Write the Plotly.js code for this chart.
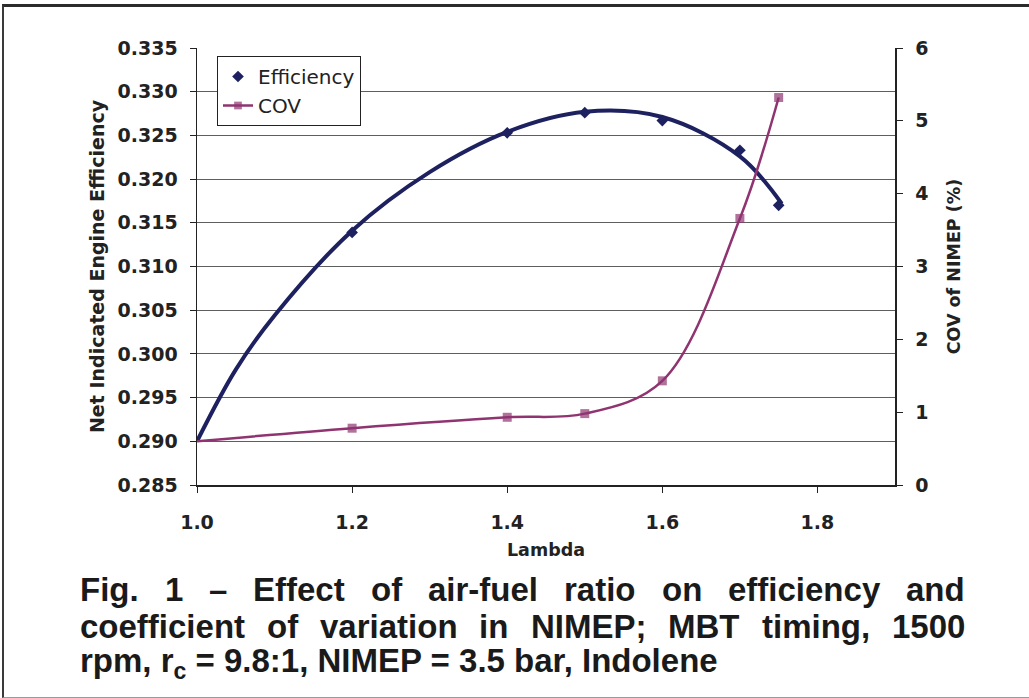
<!DOCTYPE html>
<html>
<head>
<meta charset="utf-8">
<script src="https://cdn.plot.ly/plotly-3.0.1.min.js"></script>
<style>
  html, body { margin: 0; padding: 0; background: #ffffff; }
  #frame { position: absolute; left: 2px; top: 4px; width: 1040px; height: 690px;
           border-top: 3px solid #2b2b2b; border-left: 2px solid #3a3a3a; border-bottom: 1px solid #9a9a9a; }
  #chart { position: absolute; left: 0; top: 0; width: 1029px; height: 698px; }
</style>
</head>
<body>
<div id="frame"></div>
<div id="chart"></div>
<script>
// ---- data ----
const effLambda = [1.2, 1.4, 1.5, 1.6, 1.7, 1.75];
const effValues = [0.3139, 0.3253, 0.3276, 0.3267, 0.3233, 0.3170];

// fitted trend line of efficiency
const trendLambda = [1.0, 1.05, 1.1, 1.2, 1.3, 1.4, 1.5, 1.6, 1.7, 1.754];
const trendEff    = [0.290, 0.2982, 0.3044, 0.3141, 0.3208, 0.3254, 0.3277, 0.3271, 0.3226, 0.3172];

const covLambda = [1.0, 1.2, 1.4, 1.5, 1.6, 1.7, 1.75];
const covValues = [0.60, 0.78, 0.93, 0.98, 1.43, 3.66, 5.32];

const xTickVals = [1.0, 1.2, 1.4, 1.6, 1.8];
const xTickText = ["1.0", "1.2", "1.4", "1.6", "1.8"];
const yTickVals = [0.285, 0.290, 0.295, 0.300, 0.305, 0.310, 0.315, 0.320, 0.325, 0.330, 0.335];
const yTickText = ["0.285", "0.290", "0.295", "0.300", "0.305", "0.310", "0.315", "0.320", "0.325", "0.330", "0.335"];
const y2TickVals = [0, 1, 2, 3, 4, 5, 6];
const y2TickText = ["0", "1", "2", "3", "4", "5", "6"];

const xTitle = "Lambda";
const yTitle = "Net Indicated Engine Efficiency";
const y2Title = "COV of NIMEP (%)";
const seriesNames = ["Efficiency", "COV"];
const captionLines = [
  "Fig. 1 – Effect of air-fuel ratio on efficiency and",
  "coefficient of variation in NIMEP; MBT timing, 1500",
  "rpm, r<sub>c</sub> = 9.8:1, NIMEP = 3.5 bar, Indolene"
];

// ---- layout constants ----
const W = 1029, H = 698;
const M = { l: 197, r: 134, t: 48, b: 213 };
const plotW = W - M.l - M.r, plotH = H - M.t - M.b;
const px2x = px => (px - M.l) / plotW;
const py2y = py => 1 - (py - M.t) / plotH;

const navy = "#1e2160";
const plum = "#8f3470";
const tickFont = { family: "DejaVu Sans", size: 19, color: "#222222", weight: "bold" };
const xTitleFont = { family: "DejaVu Sans", size: 17.5, color: "#222222", weight: "bold" };
const yTitleFont = { family: "DejaVu Sans", size: 19, color: "#222222", weight: "bold" };
const y2TitleFont = { family: "DejaVu Sans", size: 17.5, color: "#222222", weight: "bold" };

const traces = [
  { x: trendLambda, y: trendEff, type: "scatter", mode: "lines", showlegend: false,
    line: { color: navy, width: 4, shape: "spline", smoothing: 1 }, hoverinfo: "skip" },
  { x: effLambda, y: effValues, type: "scatter", mode: "markers", name: seriesNames[0],
    marker: { symbol: "diamond", size: 9, color: navy } },
  { x: covLambda, y: covValues, type: "scatter", mode: "lines+markers", name: seriesNames[1], yaxis: "y2",
    line: { color: plum, width: 2.5, shape: "spline", smoothing: 1 },
    marker: { symbol: "square", size: covLambda.map((v, i) => i === 0 ? 0 : 9), color: plum,
              line: { width: 0 } } }
];

// ---- caption (justified lines) ----
const capFontFamily = "'Liberation Sans', Arial, sans-serif";
const capSize = 33;
const capLeft = 80, capRight = 965;
const capCenters = [589, 626, 663];
const canvas = document.createElement("canvas");
const ctx = canvas.getContext("2d");
ctx.font = "bold " + capSize + "px " + capFontFamily;
const annotations = [];
const capFont = { family: capFontFamily, size: capSize, color: "#1a1a1a", weight: "bold" };
captionLines.forEach((line, li) => {
  const yy = py2y(capCenters[li]);
  const justify = li < captionLines.length - 1;
  if (!justify) {
    annotations.push({ text: line, xref: "paper", yref: "paper", x: px2x(capLeft), y: yy,
      xanchor: "left", yanchor: "middle", showarrow: false, borderpad: 0, borderwidth: 0,
      font: capFont });
    return;
  }
  const words = line.split(" ");
  const widths = words.map(w => ctx.measureText(w).width);
  const total = widths.reduce((a, b) => a + b, 0);
  const gap = (capRight - capLeft - total) / (words.length - 1);
  let cur = capLeft;
  words.forEach((w, wi) => {
    annotations.push({ text: w, xref: "paper", yref: "paper", x: px2x(cur), y: yy,
      xanchor: "left", yanchor: "middle", showarrow: false, borderpad: 0, borderwidth: 0,
      font: capFont });
    cur += widths[wi] + gap;
  });
});

const layout = {
  width: W, height: H,
  margin: M,
  paper_bgcolor: "rgba(0,0,0,0)",
  plot_bgcolor: "rgba(0,0,0,0)",
  showlegend: true,
  legend: {
    x: px2x(217), y: py2y(56), xanchor: "left", yanchor: "top",
    bordercolor: "#222222", borderwidth: 1, bgcolor: "#ffffff",
    font: { family: "DejaVu Sans", size: 20, color: "#222222" },
    tracegroupgap: 0
  },
  xaxis: {
    range: [1.0, 1.9], tickmode: "array", tickvals: xTickVals, ticktext: xTickText,
    showgrid: false, zeroline: false, showline: true, linecolor: "#222222", linewidth: 1.5,
    ticks: "outside", ticklen: 6, tickcolor: "#222222", tickfont: tickFont, ticklabelstandoff: 14,
    title: { text: xTitle, font: xTitleFont, standoff: 11 }
  },
  yaxis: {
    range: [0.285, 0.335], tickmode: "array", tickvals: yTickVals, ticktext: yTickText,
    showgrid: true, gridcolor: "#5e5e5e", gridwidth: 1, zeroline: false,
    showline: true, linecolor: "#222222", linewidth: 1.5,
    ticks: "outside", ticklen: 6, tickcolor: "#222222", tickfont: tickFont, ticklabelstandoff: 8,
    title: { text: yTitle, font: yTitleFont, standoff: 8 }
  },
  yaxis2: {
    range: [0, 6], overlaying: "y", side: "right", tickmode: "array", tickvals: y2TickVals, ticktext: y2TickText,
    showgrid: false, zeroline: false, showline: true, linecolor: "#222222", linewidth: 1.5,
    ticks: "outside", ticklen: 6, tickcolor: "#222222", tickfont: tickFont, ticklabelstandoff: 9,
    title: { text: y2Title, font: y2TitleFont, standoff: 20 }
  },
  annotations: annotations
};

Plotly.newPlot("chart", traces, layout, { staticPlot: true, displayModeBar: false });
</script>
</body>
</html>
